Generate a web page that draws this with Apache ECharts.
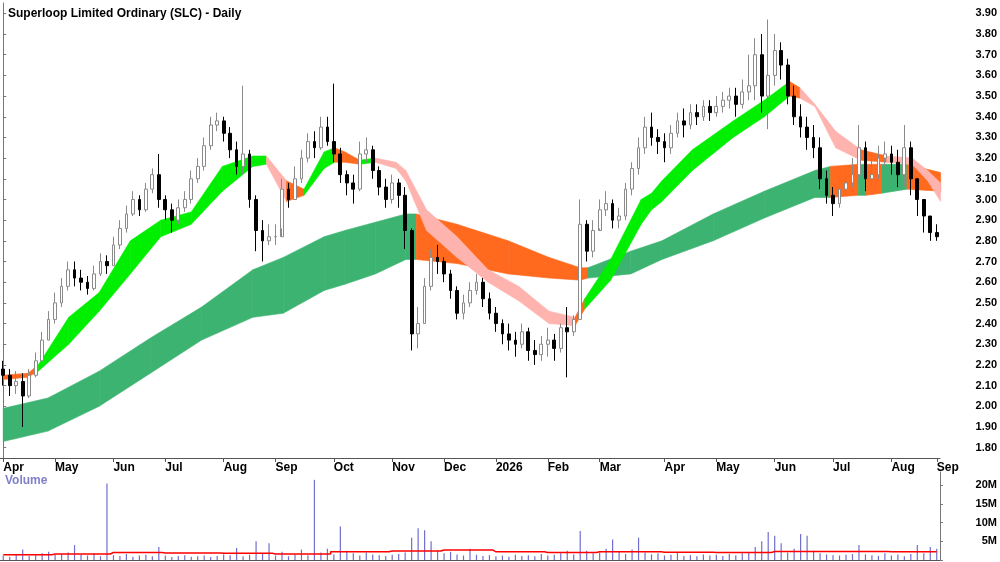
<!DOCTYPE html>
<html>
<head>
<meta charset="utf-8">
<script src="https://cdn.jsdelivr.net/npm/echarts@6/dist/echarts.min.js"></script>
<style>html,body{margin:0;padding:0;background:#fff}#chart{width:1000px;height:562px}</style>
</head>
<body>
<div id="chart"></div>
<script>
// month labels and how many bars each month has
var monthNames = ['Apr','May','Jun','Jul','Aug','Sep','Oct','Nov','Dec','2026','Feb','Mar','Apr','May','Jun','Jul','Aug','Sep'];
var monthBars  = [8, 9, 8, 9, 8, 9, 9, 8, 8, 8, 8, 10, 8, 9, 9, 9, 7, 1];

var closes = [
  2.15,2.10,2.12,2.05,2.15,2.22,2.32,2.42,
  2.50,2.58,2.66,2.62,2.60,2.57,2.64,2.70,2.68,
  2.78,2.86,2.93,3.00,2.95,3.05,3.12,3.00,
  2.95,2.90,2.96,3.00,3.10,3.16,3.26,3.36,3.38,
  3.32,3.24,3.16,3.22,3.00,2.85,2.80,2.82,
  2.82,3.05,3.00,3.10,3.20,3.28,3.25,3.35,3.28,
  3.22,3.12,3.08,3.05,3.22,3.24,3.14,3.06,3.00,
  3.08,3.02,2.85,2.35,2.40,2.58,2.72,2.70,
  2.64,2.56,2.45,2.50,2.56,2.60,2.52,2.45,
  2.40,2.35,2.32,2.30,2.36,2.27,2.25,2.30,
  2.32,2.28,2.38,2.36,2.42,2.88,2.75,2.85,
  2.95,2.98,2.90,2.92,3.05,3.15,3.25,3.35,3.30,3.28,
  3.25,3.32,3.38,3.36,3.42,3.40,3.45,3.42,
  3.45,3.48,3.50,3.46,3.52,3.55,3.70,3.50,3.60,
  3.72,3.65,3.50,3.40,3.35,3.30,3.25,3.10,3.02,
  2.98,3.05,3.08,3.12,3.25,3.10,3.12,3.20,3.22,
  3.18,3.12,3.25,3.10,3.00,2.92,2.84,2.82
];
var highs = [
  2.22,2.18,2.17,2.16,2.18,2.26,2.36,2.46,
  2.55,2.62,2.70,2.70,2.66,2.63,2.68,2.74,2.73,
  2.82,2.90,2.97,3.04,3.02,3.08,3.15,3.22,
  3.02,2.98,3.00,3.04,3.14,3.20,3.30,3.40,3.42,
  3.40,3.35,3.28,3.55,3.24,3.02,2.90,2.88,
  2.88,3.10,3.08,3.16,3.24,3.32,3.33,3.40,3.40,
  3.56,3.25,3.14,3.12,3.28,3.30,3.26,3.16,3.10,
  3.12,3.10,3.06,2.86,2.48,2.62,2.76,2.78,
  2.72,2.66,2.58,2.54,2.60,2.64,2.62,2.55,
  2.48,2.42,2.40,2.36,2.40,2.38,2.32,2.34,
  2.38,2.35,2.40,2.48,2.44,3.00,2.90,2.90,
  3.00,3.04,3.00,2.96,3.08,3.18,3.30,3.40,3.42,3.34,
  3.32,3.36,3.42,3.44,3.46,3.46,3.48,3.48,
  3.50,3.52,3.54,3.54,3.58,3.70,3.78,3.80,3.87,
  3.80,3.76,3.68,3.55,3.46,3.40,3.36,3.30,3.14,
  3.06,3.10,3.14,3.20,3.36,3.28,3.20,3.26,3.28,
  3.26,3.24,3.36,3.28,3.08,3.00,2.92,2.88
];
var lows = [
  2.10,2.05,2.06,1.90,2.04,2.14,2.22,2.32,
  2.40,2.48,2.56,2.58,2.56,2.54,2.56,2.63,2.64,
  2.68,2.76,2.84,2.92,2.92,2.94,3.03,2.96,
  2.90,2.84,2.88,2.94,2.98,3.08,3.14,3.24,3.33,
  3.28,3.20,3.12,3.12,2.96,2.75,2.70,2.78,
  2.78,2.86,2.96,3.00,3.08,3.18,3.20,3.24,3.26,
  3.18,3.08,3.02,2.98,3.04,3.18,3.10,3.02,2.96,
  2.98,2.96,2.76,2.27,2.28,2.40,2.56,2.64,
  2.60,2.52,2.42,2.42,2.48,2.54,2.48,2.42,
  2.36,2.30,2.27,2.24,2.28,2.22,2.20,2.22,
  2.24,2.22,2.26,2.14,2.34,2.42,2.70,2.72,
  2.86,2.92,2.86,2.86,2.90,3.02,3.12,3.22,3.26,3.22,
  3.18,3.22,3.30,3.30,3.34,3.36,3.38,3.38,
  3.40,3.42,3.44,3.40,3.44,3.48,3.48,3.42,3.34,
  3.55,3.58,3.46,3.36,3.30,3.24,3.20,3.05,2.98,
  2.92,2.96,3.02,3.06,3.10,3.04,3.06,3.10,3.16,
  3.12,3.06,3.06,3.02,2.92,2.84,2.80,2.80
];
var volumes = [
  1.2,0.9,1.5,2.8,1.1,1.3,1.8,2.2,1.4,1.6,
  2.0,4.0,1.5,1.2,1.8,1.0,20.5,1.3,1.1,1.6,
  0.9,1.2,1.4,1.0,3.5,1.2,0.8,1.1,1.3,0.9,
  1.0,1.2,0.8,1.1,1.5,1.3,3.2,1.0,1.4,5.0,
  1.8,4.5,1.2,2.2,1.0,1.5,2.8,1.3,21.5,2.0,
  3.0,1.5,9.0,2.5,1.8,1.2,2.0,1.5,1.3,1.1,
  1.4,1.6,2.0,6.0,8.5,8.0,5.0,2.5,1.8,2.2,
  1.5,1.2,3.0,1.4,1.1,1.3,1.0,1.2,0.9,1.4,
  1.1,1.3,1.0,1.6,1.2,1.4,1.8,2.5,1.5,7.8,
  2.5,1.8,2.0,3.0,5.5,2.2,1.6,2.8,6.0,2.0,
  1.5,1.8,1.2,1.4,2.0,1.1,1.3,1.0,1.5,1.2,
  1.4,1.1,1.6,1.3,1.8,2.0,3.5,5.0,7.5,6.5,
  4.5,2.0,3.0,7.0,6.5,2.5,1.8,1.5,1.3,1.2,
  1.4,1.6,4.0,1.5,1.3,1.1,1.8,1.2,1.5,1.0,
  1.6,4.0,1.8,3.5,3.0
];
// average volume, one step per month (red line)
var avgVolMonthly = [1.4,1.6,2.0,1.9,1.8,1.6,2.2,2.4,2.7,2.2,2.0,2.2,2.1,2.0,2.3,2.3,2.2,2.2];

// short ribbon: bar position, lower edge, upper edge, colour of the segment that follows
var shortPos = [0,3.8,5.4,10.1,14.8,19.6,24.3,29,33.8,38.5,40.6,43.7,46.4,49.5,51.1,52.7,55,57.4,60.6,62.1,65.3,70,74.8,79.5,84.2,88.2,89.7,93.7,98.4,100,101.6,106.3,112.6,117.4,121.3,122.9,125.2,128.4,132.3,136.3,140.2,142.6,144.6];
var shortLo  = [2.13,2.14,2.17,2.30,2.46,2.64,2.82,2.88,3.04,3.16,3.17,2.99,3.02,3.15,3.18,3.18,3.17,3.18,3.15,3.09,2.85,2.72,2.60,2.51,2.40,2.39,2.47,2.61,2.88,2.95,2.99,3.14,3.30,3.40,3.50,3.49,3.45,3.25,3.19,3.18,3.17,3.09,2.99];
var shortHi  = [2.15,2.16,2.20,2.43,2.55,2.80,2.90,2.94,3.16,3.21,3.21,3.09,3.05,3.23,3.25,3.23,3.19,3.20,3.18,3.14,2.95,2.82,2.66,2.58,2.46,2.43,2.52,2.71,3.00,3.03,3.09,3.24,3.38,3.48,3.57,3.54,3.46,3.33,3.24,3.21,3.20,3.14,3.08];
var shortCol = ['o','o','g','g','g','g','g','g','g','g','p','o','g','g','o','o','g','p','p','p','p','p','p','p','p','o','g','g','g','g','g','g','g','g','o','p','p','p','o','p','p','p','p'];

// long ribbon
var longPos = [0,6.9,14.8,22.7,30.6,38.5,43.2,49.5,52.7,57.4,62.1,63.7,70,77.9,84.2,89,90.2,96.8,101.6,109.5,117.4,125.2,127.6,131.9,133.1,135.5,139.4,144.6];
var longLo  = [1.83,1.88,2.00,2.16,2.32,2.43,2.45,2.56,2.59,2.64,2.71,2.71,2.69,2.64,2.62,2.61,2.62,2.64,2.71,2.80,2.91,3.01,3.01,3.02,3.02,3.03,3.05,3.04];
var longHi  = [1.99,2.04,2.17,2.33,2.48,2.66,2.72,2.82,2.85,2.89,2.93,2.93,2.88,2.80,2.72,2.67,2.67,2.75,2.80,2.93,3.04,3.14,3.16,3.17,3.17,3.17,3.17,3.13];
var longCol = ['d','d','d','d','d','d','d','d','d','d','d','o','o','o','o','o','d','d','d','d','d','d','o','d','o','d','o','o'];

var colours = { g: '#00ee00', p: '#ffb3ae', o: '#ff6a1e', d: '#3cb371' };

var n = closes.length;
var cats = [], monthStart = {}, avgVol = [];
var k = 0;
monthBars.forEach(function (c, m) {
    monthStart[k] = monthNames[m];
    for (var j = 0; j < c; j++) { cats.push(String(k)); avgVol.push(avgVolMonthly[m]); k++; }
});

var candles = [];
for (var i = 0; i < n; i++) {
    var o = i === 0 ? 2.18 : closes[i - 1];
    candles.push([o, closes[i], lows[i], highs[i]]);
}

function segs(pos, lo, hi) {
    var out = [];
    for (var i = 0; i < pos.length - 1; i++) {
        out.push([pos[i], lo[i], hi[i], pos[i + 1], lo[i + 1], hi[i + 1]]);
    }
    return out;
}
function ribbonFor(col) {
    return function (params, api) {
        var a = api.coord([api.value(0), api.value(1)]);
        var b = api.coord([api.value(0), api.value(2)]);
        var c = api.coord([api.value(3), api.value(5)]);
        var d = api.coord([api.value(3), api.value(4)]);
        var fill = colours[col[params.dataIndex]];
        return { type: 'polygon', shape: { points: [a, b, c, d] },
                 style: { fill: fill, stroke: fill, lineWidth: 0.6 } };
    };
}

var priceTicks = [];
for (var t = 18; t <= 39; t++) priceTicks.push(t / 10);

var chart = echarts.init(document.getElementById('chart'));
chart.setOption({
    animation: false,
    title: { text: 'Superloop Limited Ordinary (SLC) - Daily', left: 3, top: 3,
             textStyle: { fontFamily: 'Liberation Sans', fontSize: 12, fontWeight: 'bold', color: '#000' } },
    graphic: [{ type: 'text', left: 5, top: 475,
                style: { text: 'Volume', fill: '#8080c8', font: 'bold 12px "Liberation Sans"' } }],
    grid: [
        { left: 0, right: 60, top: 3, height: 455 },
        { left: 0, right: 60, top: 472, height: 88 }
    ],
    xAxis: [
        { type: 'category', data: cats, gridIndex: 0,
          axisLine: { lineStyle: { color: '#555' } },
          axisTick: { show: true, length: 4, alignWithLabel: true, inside: false,
                      interval: function (i) { return monthStart[i] !== undefined; }, lineStyle: { color: '#555' } },
          axisLabel: { interval: function (i) { return monthStart[i] !== undefined; },
                       formatter: function (v) { return monthStart[v]; },
                       align: 'left', margin: 4, color: '#000', fontWeight: 'bold', fontSize: 12, fontFamily: 'Liberation Sans' },
          splitLine: { show: false } },
        { type: 'value', gridIndex: 0, min: -0.5, max: n - 0.5, show: false },
        { type: 'category', data: cats, gridIndex: 1, position: 'top',
          axisLine: { lineStyle: { color: '#555' } }, axisTick: { show: false }, axisLabel: { show: false } }
    ],
    yAxis: [
        { type: 'value', gridIndex: 0, position: 'right', min: 1.75, max: 3.95, scale: true,
          axisLine: { show: true, lineStyle: { color: '#777' } },
          axisTick: { show: true, length: 3, customValues: priceTicks, lineStyle: { color: '#777' } },
          axisLabel: { customValues: priceTicks, formatter: function (v) { return v.toFixed(2); },
                       align: 'right', margin: 57, color: '#000', fontWeight: 'bold', fontSize: 11, fontFamily: 'Liberation Sans' },
          splitLine: { show: false } },
        { type: 'value', gridIndex: 1, position: 'right', min: 0, max: 23.6, interval: 5,
          axisLine: { show: true, lineStyle: { color: '#777' } },
          axisTick: { show: true, length: 3, lineStyle: { color: '#777' } },
          axisLabel: { showMaxLabel: false, formatter: function (v) { return v === 0 ? '' : v + 'M'; },
                       align: 'right', margin: 57, color: '#000', fontWeight: 'bold', fontSize: 11, fontFamily: 'Liberation Sans' },
          splitLine: { show: false } }
    ],
    series: [
        { type: 'custom', xAxisIndex: 1, yAxisIndex: 0, renderItem: ribbonFor(longCol),
          data: segs(longPos, longLo, longHi), encode: { x: [0, 3], y: [1, 2, 4, 5] }, z: 1 },
        { type: 'custom', xAxisIndex: 1, yAxisIndex: 0, renderItem: ribbonFor(shortCol),
          data: segs(shortPos, shortLo, shortHi), encode: { x: [0, 3], y: [1, 2, 4, 5] }, z: 2 },
        { type: 'candlestick', xAxisIndex: 0, yAxisIndex: 0, data: candles, barMaxWidth: 4, z: 3,
          itemStyle: { color: '#ffffff', color0: '#000000', borderColor: '#8a8a8a', borderColor0: '#000000', borderWidth: 1 } },
        { type: 'bar', xAxisIndex: 2, yAxisIndex: 1, data: volumes, barWidth: 1.2,
          itemStyle: { color: '#6f6fd0' } },
        { type: 'line', xAxisIndex: 2, yAxisIndex: 1, data: avgVol, step: 'middle', symbol: 'none',
          lineStyle: { color: '#ff0000', width: 1.5 } }
    ]
});
window.onresize = function () { chart.resize(); };
</script>
</body>
</html>
